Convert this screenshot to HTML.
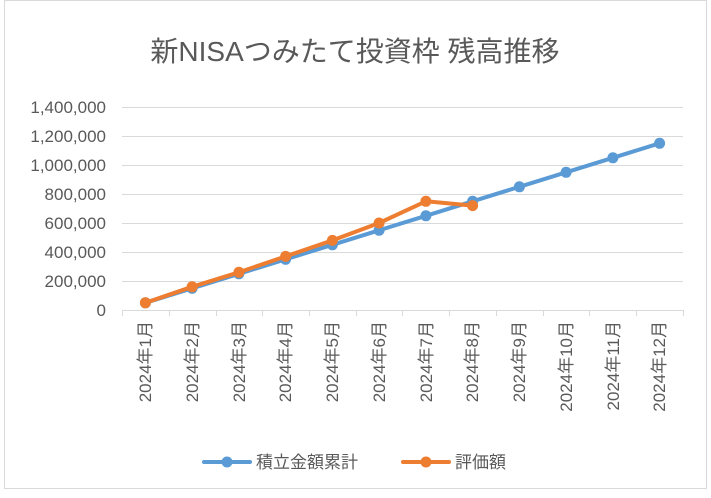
<!DOCTYPE html>
<html><head><meta charset="utf-8"><style>
html,body{margin:0;padding:0;background:#fff}
text{font-family:"Liberation Sans","Noto Sans CJK JP",sans-serif;fill:#595959}
</style></head><body>
<svg width="711" height="493" viewBox="0 0 711 493" xmlns="http://www.w3.org/2000/svg">
<rect x="4.5" y="0.5" width="702" height="488" fill="#fff" stroke="#d9d9d9"/>
<text x="355" y="61" font-size="28" text-anchor="middle">新NISAつみたて投資枠 残高推移</text>
<g stroke="#d9d9d9" stroke-width="1">
<line x1="122" x2="683" y1="107.5" y2="107.5"/>
<line x1="122" x2="683" y1="136.5" y2="136.5"/>
<line x1="122" x2="683" y1="165.5" y2="165.5"/>
<line x1="122" x2="683" y1="194.5" y2="194.5"/>
<line x1="122" x2="683" y1="223.5" y2="223.5"/>
<line x1="122" x2="683" y1="252.5" y2="252.5"/>
<line x1="122" x2="683" y1="281.5" y2="281.5"/>
<line x1="122" x2="683" y1="310.5" y2="310.5"/>
<line x1="122.5" x2="122.5" y1="310" y2="316"/><line x1="169.5" x2="169.5" y1="310" y2="316"/><line x1="216.5" x2="216.5" y1="310" y2="316"/><line x1="262.5" x2="262.5" y1="310" y2="316"/><line x1="309.5" x2="309.5" y1="310" y2="316"/><line x1="356.5" x2="356.5" y1="310" y2="316"/><line x1="402.5" x2="402.5" y1="310" y2="316"/><line x1="449.5" x2="449.5" y1="310" y2="316"/><line x1="496.5" x2="496.5" y1="310" y2="316"/><line x1="543.5" x2="543.5" y1="310" y2="316"/><line x1="589.5" x2="589.5" y1="310" y2="316"/><line x1="636.5" x2="636.5" y1="310" y2="316"/><line x1="683.5" x2="683.5" y1="310" y2="316"/>
</g>
<g font-size="17" text-anchor="end">
<text x="106" y="113">1,400,000</text><text x="106" y="142">1,200,000</text><text x="106" y="171">1,000,000</text><text x="106" y="200">800,000</text><text x="106" y="229">600,000</text><text x="106" y="258">400,000</text><text x="106" y="287">200,000</text><text x="106" y="316">0</text>
</g>
<g font-size="17" text-anchor="end">
<text transform="translate(151,321) rotate(-90)">2024年1月</text>
<text transform="translate(198,321) rotate(-90)">2024年2月</text>
<text transform="translate(245,321) rotate(-90)">2024年3月</text>
<text transform="translate(291,321) rotate(-90)">2024年4月</text>
<text transform="translate(338,321) rotate(-90)">2024年5月</text>
<text transform="translate(385,321) rotate(-90)">2024年6月</text>
<text transform="translate(432,321) rotate(-90)">2024年7月</text>
<text transform="translate(478,321) rotate(-90)">2024年8月</text>
<text transform="translate(525,321) rotate(-90)">2024年9月</text>
<text transform="translate(572,321) rotate(-90)">2024年10月</text>
<text transform="translate(619,321) rotate(-90)">2024年11月</text>
<text transform="translate(665,321) rotate(-90)">2024年12月</text>
</g>
<g fill="#5b9bd5" stroke="none">
<polyline fill="none" stroke="#5b9bd5" stroke-width="4" stroke-linejoin="round" points="145.4,302.8 192.1,288.3 238.9,273.8 285.6,259.3 332.4,244.8 379.1,230.3 425.9,215.8 472.6,201.3 519.4,186.8 566.1,172.3 612.9,157.8 659.6,143.3"/>
<circle cx="145.4" cy="302.8" r="5.5"/><circle cx="192.1" cy="288.3" r="5.5"/><circle cx="238.9" cy="273.8" r="5.5"/><circle cx="285.6" cy="259.3" r="5.5"/><circle cx="332.4" cy="244.8" r="5.5"/><circle cx="379.1" cy="230.3" r="5.5"/><circle cx="425.9" cy="215.8" r="5.5"/><circle cx="472.6" cy="201.3" r="5.5"/><circle cx="519.4" cy="186.8" r="5.5"/><circle cx="566.1" cy="172.3" r="5.5"/><circle cx="612.9" cy="157.8" r="5.5"/><circle cx="659.6" cy="143.3" r="5.5"/>
</g>
<g fill="#ed7d31">
<polyline fill="none" stroke="#ed7d31" stroke-width="4" stroke-linejoin="round" points="145.4,302.8 192.1,286.8 238.9,272.3 285.6,256.4 332.4,240.4 379.1,223 425.9,201.3 472.6,205.6"/>
<circle cx="145.4" cy="302.8" r="5.5"/><circle cx="192.1" cy="286.8" r="5.5"/><circle cx="238.9" cy="272.3" r="5.5"/><circle cx="285.6" cy="256.4" r="5.5"/><circle cx="332.4" cy="240.4" r="5.5"/><circle cx="379.1" cy="223" r="5.5"/><circle cx="425.9" cy="201.3" r="5.5"/><circle cx="472.6" cy="205.6" r="5.5"/>
</g>
<line x1="204" x2="250" y1="462" y2="462" stroke="#5b9bd5" stroke-width="4" stroke-linecap="round"/>
<circle cx="227" cy="462" r="5.5" fill="#5b9bd5"/>
<text x="256" y="468" font-size="17">積立金額累計</text>
<line x1="403" x2="449" y1="462" y2="462" stroke="#ed7d31" stroke-width="4" stroke-linecap="round"/>
<circle cx="426" cy="462" r="5.5" fill="#ed7d31"/>
<text x="455" y="468" font-size="17">評価額</text>
</svg>
</body></html>
